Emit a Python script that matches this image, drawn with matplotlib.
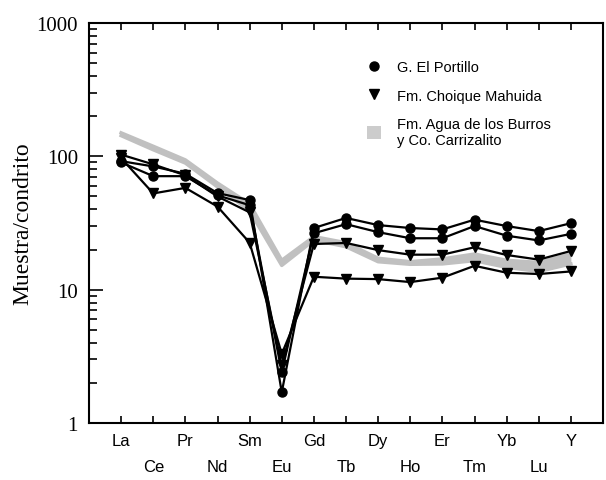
import numpy as np
import matplotlib
matplotlib.use("Agg")
import matplotlib.pyplot as plt
from matplotlib.lines import Line2D
from matplotlib.patches import Patch
from matplotlib.ticker import FixedLocator, NullFormatter

elements = ["La", "Ce", "Pr", "Nd", "Sm", "Eu", "Gd", "Tb", "Dy", "Ho",
            "Er", "Tm", "Yb", "Lu", "Y"]

# G. El Portillo (circles)
portillo_a = [92, 84, 74, 53, 47, 1.7, 29, 34.5, 30.5, 29, 28.3, 33.5, 30, 27.5, 31.5]
portillo_b = [90, 71, 71, 51, 43, 2.4, 26.5, 31, 27, 24.3, 24.3, 30, 25.4, 23.4, 26.2]

# Fm. Choique Mahuida (triangles)
choique_a = [103, 87, 72, 50, 38, 2.7, 22, 22.4, 19.8, 18.3, 18.3, 20.8, 18.2, 16.8, 19.5]
choique_b = [97, 52.7, 58, 42, 22.5, 3.3, 12.5, 12.1, 12.0, 11.4, 12.3, 15.1, 13.4, 13.1, 13.7]

# Fm. Agua de los Burros y Co. Carrizalito (grey field)
burros_high = [150, 119, 94, 63, 44, 16.6, 25, 22.5, 17.2, 16.2, 17.0, 18.5, 16.6, 16.0, 18.5]
burros_low = [143, 112, 89, 59, 39, 15.2, 23.5, 21, 16.2, 15.5, 15.6, 16.5, 14.7, 13.7, 15.6]

grey = "#c0c0c0"
sans = "Liberation Sans"
serif = "Liberation Serif"

fig = plt.figure(figsize=(6.06, 4.81), dpi=100)
ax = fig.add_axes([89 / 606, 1 - 424 / 481, (603 - 89) / 606, 400 / 481])

x = np.arange(len(elements))

ax.fill_between(x, burros_low, burros_high, color=grey, lw=0, zorder=1)
ax.plot(x, burros_high, color=grey, lw=2.5, zorder=1)
ax.plot(x, burros_low, color=grey, lw=2.5, zorder=1)

for vals in (portillo_a, portillo_b):
    ax.plot(x, vals, color="black", lw=1.6, marker="o", ms=6.5, zorder=3)
for vals in (choique_a, choique_b):
    ax.plot(x, vals, color="black", lw=1.6, marker="v", ms=7.5, zorder=3)

ax.set_yscale("log")
ax.set_ylim(1, 1000)
ax.set_xlim(-1, 15)

ax.set_yticks([1, 10, 100, 1000])
ax.set_yticklabels(["1", "10", "100", "1000"], fontfamily=serif, fontsize=15)
ax.yaxis.set_minor_formatter(NullFormatter())
ax.set_ylabel("Muestra/condrito", fontfamily=serif, fontsize=17, labelpad=2)

# two rows of element labels
ax.xaxis.set_major_locator(FixedLocator(x[::2]))
ax.xaxis.set_minor_locator(FixedLocator(x[1::2]))
ax.set_xticklabels(elements[::2], fontfamily=sans, fontsize=12)
ax.set_xticklabels(elements[1::2], minor=True, fontfamily=sans, fontsize=12)

ax.tick_params(axis="x", which="both", direction="in", top=True, length=5, width=1.2)
ax.tick_params(axis="x", which="major", pad=7)
ax.tick_params(axis="x", which="minor", pad=26)
ax.tick_params(axis="y", which="major", direction="in", length=10, width=1.2, pad=8)
ax.tick_params(axis="y", which="minor", direction="in", length=6, width=1.2)

for s in ax.spines.values():
    s.set_linewidth(1.5)

handles = [
    Line2D([], [], color="black", marker="o", ls="none", ms=6.5),
    Line2D([], [], color="black", marker="v", ls="none", ms=7.5),
    Patch(facecolor="#cccccc", edgecolor="none"),
]
labels = ["G. El Portillo", "Fm. Choique Mahuida",
          "Fm. Agua de los Burros\ny Co. Carrizalito"]
ax.legend(handles, labels, loc="upper left", bbox_to_anchor=(361 / 606, 1 - 55 / 481),
          bbox_transform=fig.transFigure, frameon=False,
          prop={"family": sans, "size": 10.5}, handlelength=1.0, handleheight=1.0,
          handletextpad=1.1, labelspacing=0.95, borderaxespad=0)

fig.savefig("out.png", dpi=100)
